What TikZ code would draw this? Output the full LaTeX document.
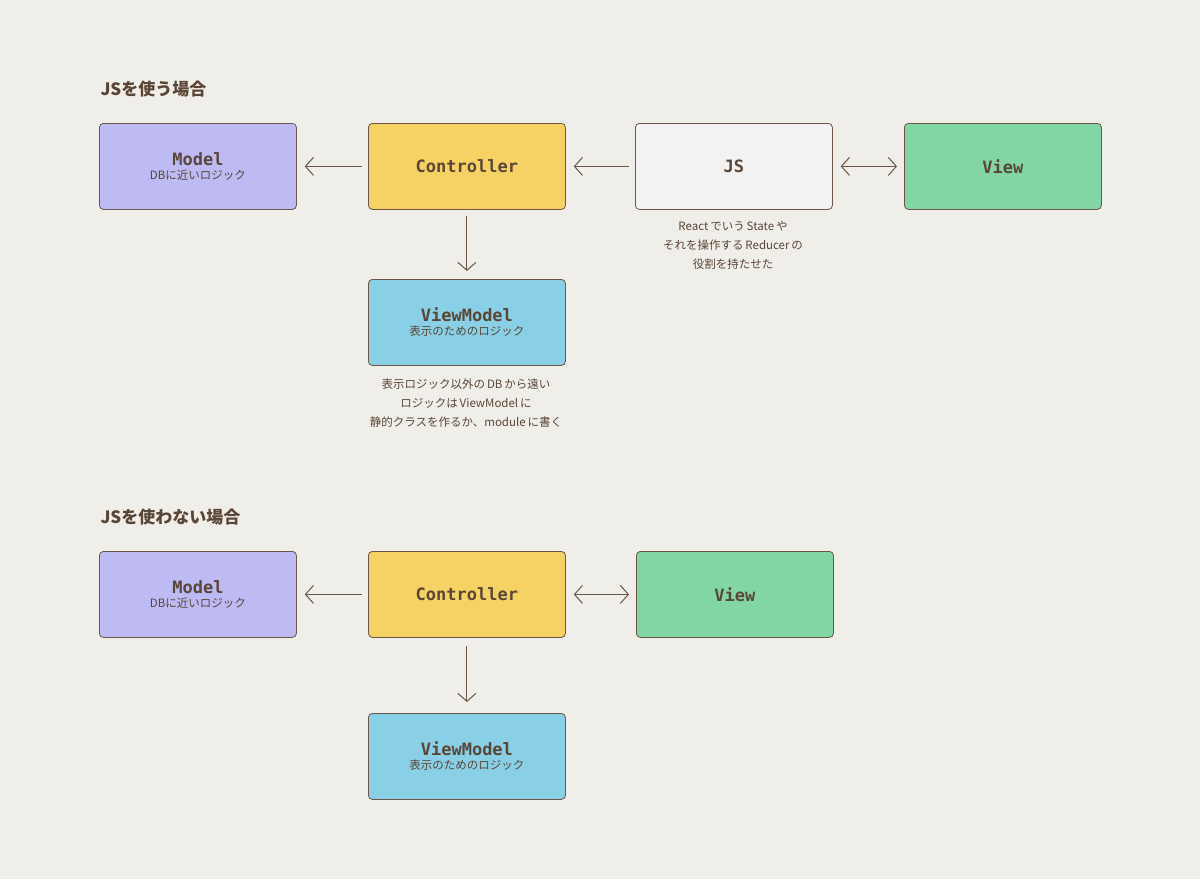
\documentclass[tikz,border=0pt]{standalone}
\usepackage{fontspec}
\setmainfont{Noto Sans CJK JP}
\newfontfamily\jp{Noto Sans CJK JP}
\newfontfamily\mono{DejaVu Sans Mono}
\usetikzlibrary{arrows.meta}
\definecolor{bg}{HTML}{F0EEE9}
\definecolor{ln}{HTML}{6B5647}
\definecolor{tx}{HTML}{5A4636}
\definecolor{cp}{HTML}{BDBAF4}
\definecolor{cy}{HTML}{F5D263}
\definecolor{cw}{HTML}{F2F2F2}
\definecolor{cg}{HTML}{82D6A3}
\definecolor{cb}{HTML}{89D0E6}
\newcommand{\ttlf}[1]{{\mono\bfseries\fontsize{17}{20}\selectfont #1}}
\newcommand{\subt}[1]{\\[2pt]{\jp\fontsize{11.5}{13}\selectfont #1}}
\begin{document}
\begin{tikzpicture}[x=1pt,y=-1pt,
 box/.style={draw=ln,line width=0.8pt,rounded corners=4pt,minimum width=197pt,minimum height=86pt,anchor=north west,text=tx,align=center,inner sep=0pt},
 ar/.style={draw=ln,line width=1pt,-{Straight Barb[length=8pt,width=18pt]}},
 ar2/.style={draw=ln,line width=1pt,{Straight Barb[length=8pt,width=18pt]}-{Straight Barb[length=8pt,width=18pt]}},
 note/.style={text=tx,font=\jp\fontsize{11.5}{19}\selectfont,align=center},
 hd/.style={text=tx,font=\jp\bfseries\fontsize{17}{20}\selectfont,anchor=west}]
\fill[bg] (0,0) rectangle (1200,879);
\node[hd] (h1) at (97,89) {JSを使う場合};
\node[box,fill=cp] (m1) at (99,123) {\ttlf{Model}\subt{DBに近いロジック}};
\node[box,fill=cy] (c1) at (368,123) {\ttlf{Controller}};
\node[box,fill=cw] (j1) at (635,123) {\ttlf{JS}};
\node[box,fill=cg] (v1) at (904,123) {\ttlf{View}};
\node[box,fill=cb] (vm1) at (368,279) {\ttlf{ViewModel}\subt{表示のためのロジック}};
\node[note] (n1) at (733,245) {React\,でいう\,State\,や\\それを操作する\,Reducer\,の\\役割を持たせた};
\node[note] (n2) at (466,403) {表示ロジック以外の\,DB\,から遠い\\ロジックは\,ViewModel\,に\\静的クラスを作るか、module\,に書く};
\draw[ar] ([xshift=-6pt]c1.west) -- ([xshift=8pt]m1.east);
\draw[ar] ([xshift=-6pt]j1.west) -- ([xshift=8pt]c1.east);
\draw[ar2] ([xshift=8pt]j1.east) -- ([xshift=-7pt]v1.west);
\draw[ar] ([yshift=-6pt]c1.south) -- ([yshift=8pt]vm1.north);
\node[hd] (h2) at (97,517) {JSを使わない場合};
\node[box,fill=cp] (m2) at (99,551) {\ttlf{Model}\subt{DBに近いロジック}};
\node[box,fill=cy] (c2) at (368,551) {\ttlf{Controller}};
\node[box,fill=cg] (v2) at (636,551) {\ttlf{View}};
\node[box,fill=cb] (vm2) at (368,713) {\ttlf{ViewModel}\subt{表示のためのロジック}};
\draw[ar] ([xshift=-6pt]c2.west) -- ([xshift=8pt]m2.east);
\draw[ar2] ([xshift=8pt]c2.east) -- ([xshift=-7pt]v2.west);
\draw[ar] ([yshift=-8pt]c2.south) -- ([yshift=11pt]vm2.north);
\end{tikzpicture}
\end{document}
